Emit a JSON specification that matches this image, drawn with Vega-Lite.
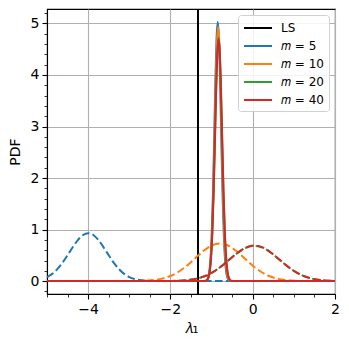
{
  "$schema": "https://vega.github.io/schema/vega-lite/v6.json",
  "width": 288,
  "height": 285,
  "autosize": "none",
  "padding": {"left": 47, "top": 9, "right": 14, "bottom": 53},
  "background": "white",
  "config": {
    "font": "DejaVu Sans",
    "view": {"stroke": "black", "strokeWidth": 1.1},
    "axis": {
      "domainColor": "black", "domainWidth": 1.1,
      "tickColor": "black", "tickWidth": 1.1, "tickSize": 5,
      "labelColor": "black", "titleColor": "black",
      "labelFont": "DejaVu Sans", "titleFont": "DejaVu Sans",
      "labelFontSize": 14, "titleFontSize": 14, "titleFontWeight": "normal",
      "gridColor": "#b0b0b0", "gridWidth": 1.1, "gridOpacity": 1,
      "labelPadding": 3
    },
    "legend": {
      "orient": "top-right", "offset": 6, "padding": 5,
      "fillColor": "rgba(255,255,255,0.85)", "strokeColor": "#d0d0d0", "cornerRadius": 3,
      "labelFont": "DejaVu Sans", "labelFontSize": 12, "labelColor": "black",
      "symbolType": "M-1,0H3", "symbolSize": 196, "symbolStrokeWidth": 2,
      "labelOffset": 22, "rowPadding": 4, "symbolDash": [1, 0]
    }
  },
  "datasets": {
    "d": [
      {"g": "LS", "s": "LS", "x": -1.33, "y": 0},

      {"g": "5s", "s": "𝑚 = 5", "x": -5, "y": 0},
      {"g": "5s", "s": "𝑚 = 5", "x": -1.18, "y": 0.0009},
      {"g": "5s", "s": "𝑚 = 5", "x": -1.15, "y": 0.0039},
      {"g": "5s", "s": "𝑚 = 5", "x": -1.12, "y": 0.0153},
      {"g": "5s", "s": "𝑚 = 5", "x": -1.09, "y": 0.0516},
      {"g": "5s", "s": "𝑚 = 5", "x": -1.06, "y": 0.151},
      {"g": "5s", "s": "𝑚 = 5", "x": -1.03, "y": 0.3827},
      {"g": "5s", "s": "𝑚 = 5", "x": -1.00, "y": 0.8405},
      {"g": "5s", "s": "𝑚 = 5", "x": -0.97, "y": 1.601},
      {"g": "5s", "s": "𝑚 = 5", "x": -0.94, "y": 2.642},
      {"g": "5s", "s": "𝑚 = 5", "x": -0.91, "y": 3.778},
      {"g": "5s", "s": "𝑚 = 5", "x": -0.88, "y": 4.682},
      {"g": "5s", "s": "𝑚 = 5", "x": -0.85, "y": 5.03},
      {"g": "5s", "s": "𝑚 = 5", "x": -0.82, "y": 4.682},
      {"g": "5s", "s": "𝑚 = 5", "x": -0.79, "y": 3.778},
      {"g": "5s", "s": "𝑚 = 5", "x": -0.76, "y": 2.642},
      {"g": "5s", "s": "𝑚 = 5", "x": -0.73, "y": 1.601},
      {"g": "5s", "s": "𝑚 = 5", "x": -0.70, "y": 0.8405},
      {"g": "5s", "s": "𝑚 = 5", "x": -0.67, "y": 0.3827},
      {"g": "5s", "s": "𝑚 = 5", "x": -0.64, "y": 0.151},
      {"g": "5s", "s": "𝑚 = 5", "x": -0.61, "y": 0.0516},
      {"g": "5s", "s": "𝑚 = 5", "x": -0.58, "y": 0.0153},
      {"g": "5s", "s": "𝑚 = 5", "x": -0.55, "y": 0.0039},
      {"g": "5s", "s": "𝑚 = 5", "x": -0.52, "y": 0.0009},
      {"g": "5s", "s": "𝑚 = 5", "x": 2, "y": 0},

      {"g": "5d", "s": "𝑚 = 5", "x": -5, "y": 0.079},
      {"g": "5d", "s": "𝑚 = 5", "x": -4.875, "y": 0.140},
      {"g": "5d", "s": "𝑚 = 5", "x": -4.75, "y": 0.232},
      {"g": "5d", "s": "𝑚 = 5", "x": -4.625, "y": 0.355},
      {"g": "5d", "s": "𝑚 = 5", "x": -4.5, "y": 0.502},
      {"g": "5d", "s": "𝑚 = 5", "x": -4.375, "y": 0.657},
      {"g": "5d", "s": "𝑚 = 5", "x": -4.25, "y": 0.797},
      {"g": "5d", "s": "𝑚 = 5", "x": -4.125, "y": 0.895},
      {"g": "5d", "s": "𝑚 = 5", "x": -4, "y": 0.93},
      {"g": "5d", "s": "𝑚 = 5", "x": -3.875, "y": 0.895},
      {"g": "5d", "s": "𝑚 = 5", "x": -3.75, "y": 0.797},
      {"g": "5d", "s": "𝑚 = 5", "x": -3.625, "y": 0.657},
      {"g": "5d", "s": "𝑚 = 5", "x": -3.5, "y": 0.502},
      {"g": "5d", "s": "𝑚 = 5", "x": -3.375, "y": 0.355},
      {"g": "5d", "s": "𝑚 = 5", "x": -3.25, "y": 0.232},
      {"g": "5d", "s": "𝑚 = 5", "x": -3.125, "y": 0.140},
      {"g": "5d", "s": "𝑚 = 5", "x": -3, "y": 0.079},
      {"g": "5d", "s": "𝑚 = 5", "x": -2.875, "y": 0.041},
      {"g": "5d", "s": "𝑚 = 5", "x": -2.75, "y": 0.0196},
      {"g": "5d", "s": "𝑚 = 5", "x": -2.5, "y": 0.0036},
      {"g": "5d", "s": "𝑚 = 5", "x": -2.25, "y": 0.0005},
      {"g": "5d", "s": "𝑚 = 5", "x": -2, "y": 0},
      {"g": "5d", "s": "𝑚 = 5", "x": 2, "y": 0},

      {"g": "10s", "s": "𝑚 = 10", "x": -5, "y": 0},
      {"g": "10s", "s": "𝑚 = 10", "x": -1.17, "y": 0.0012},
      {"g": "10s", "s": "𝑚 = 10", "x": -1.14, "y": 0.0052},
      {"g": "10s", "s": "𝑚 = 10", "x": -1.11, "y": 0.0191},
      {"g": "10s", "s": "𝑚 = 10", "x": -1.08, "y": 0.0612},
      {"g": "10s", "s": "𝑚 = 10", "x": -1.05, "y": 0.1711},
      {"g": "10s", "s": "𝑚 = 10", "x": -1.02, "y": 0.4174},
      {"g": "10s", "s": "𝑚 = 10", "x": -0.99, "y": 0.8874},
      {"g": "10s", "s": "𝑚 = 10", "x": -0.96, "y": 1.645},
      {"g": "10s", "s": "𝑚 = 10", "x": -0.93, "y": 2.659},
      {"g": "10s", "s": "𝑚 = 10", "x": -0.90, "y": 3.747},
      {"g": "10s", "s": "𝑚 = 10", "x": -0.87, "y": 4.603},
      {"g": "10s", "s": "𝑚 = 10", "x": -0.84, "y": 4.93},
      {"g": "10s", "s": "𝑚 = 10", "x": -0.81, "y": 4.603},
      {"g": "10s", "s": "𝑚 = 10", "x": -0.78, "y": 3.747},
      {"g": "10s", "s": "𝑚 = 10", "x": -0.75, "y": 2.659},
      {"g": "10s", "s": "𝑚 = 10", "x": -0.72, "y": 1.645},
      {"g": "10s", "s": "𝑚 = 10", "x": -0.69, "y": 0.8874},
      {"g": "10s", "s": "𝑚 = 10", "x": -0.66, "y": 0.4174},
      {"g": "10s", "s": "𝑚 = 10", "x": -0.63, "y": 0.1711},
      {"g": "10s", "s": "𝑚 = 10", "x": -0.60, "y": 0.0612},
      {"g": "10s", "s": "𝑚 = 10", "x": -0.57, "y": 0.0191},
      {"g": "10s", "s": "𝑚 = 10", "x": -0.54, "y": 0.0052},
      {"g": "10s", "s": "𝑚 = 10", "x": -0.51, "y": 0.0012},
      {"g": "10s", "s": "𝑚 = 10", "x": 2, "y": 0},

      {"g": "10d", "s": "𝑚 = 10", "x": -5, "y": 0},
      {"g": "10d", "s": "𝑚 = 10", "x": -3.4, "y": 0},
      {"g": "10d", "s": "𝑚 = 10", "x": -3.2, "y": 0.0002},
      {"g": "10d", "s": "𝑚 = 10", "x": -3.0, "y": 0.0009},
      {"g": "10d", "s": "𝑚 = 10", "x": -2.8, "y": 0.0028},
      {"g": "10d", "s": "𝑚 = 10", "x": -2.6, "y": 0.0081},
      {"g": "10d", "s": "𝑚 = 10", "x": -2.4, "y": 0.0209},
      {"g": "10d", "s": "𝑚 = 10", "x": -2.2, "y": 0.048},
      {"g": "10d", "s": "𝑚 = 10", "x": -2.0, "y": 0.0988},
      {"g": "10d", "s": "𝑚 = 10", "x": -1.8, "y": 0.182},
      {"g": "10d", "s": "𝑚 = 10", "x": -1.6, "y": 0.300},
      {"g": "10d", "s": "𝑚 = 10", "x": -1.4, "y": 0.443},
      {"g": "10d", "s": "𝑚 = 10", "x": -1.2, "y": 0.585},
      {"g": "10d", "s": "𝑚 = 10", "x": -1.0, "y": 0.691},
      {"g": "10d", "s": "𝑚 = 10", "x": -0.8, "y": 0.73},
      {"g": "10d", "s": "𝑚 = 10", "x": -0.6, "y": 0.691},
      {"g": "10d", "s": "𝑚 = 10", "x": -0.4, "y": 0.585},
      {"g": "10d", "s": "𝑚 = 10", "x": -0.2, "y": 0.443},
      {"g": "10d", "s": "𝑚 = 10", "x": 0.0, "y": 0.300},
      {"g": "10d", "s": "𝑚 = 10", "x": 0.2, "y": 0.182},
      {"g": "10d", "s": "𝑚 = 10", "x": 0.4, "y": 0.0988},
      {"g": "10d", "s": "𝑚 = 10", "x": 0.6, "y": 0.048},
      {"g": "10d", "s": "𝑚 = 10", "x": 0.8, "y": 0.0209},
      {"g": "10d", "s": "𝑚 = 10", "x": 1.0, "y": 0.0081},
      {"g": "10d", "s": "𝑚 = 10", "x": 1.2, "y": 0.0028},
      {"g": "10d", "s": "𝑚 = 10", "x": 1.4, "y": 0.0009},
      {"g": "10d", "s": "𝑚 = 10", "x": 1.6, "y": 0.0002},
      {"g": "10d", "s": "𝑚 = 10", "x": 1.8, "y": 0},
      {"g": "10d", "s": "𝑚 = 10", "x": 2.0, "y": 0},

      {"g": "20s", "s": "𝑚 = 20", "x": -5, "y": 0},
      {"g": "20s", "s": "𝑚 = 20", "x": -1.16, "y": 0.0023},
      {"g": "20s", "s": "𝑚 = 20", "x": -1.13, "y": 0.0086},
      {"g": "20s", "s": "𝑚 = 20", "x": -1.10, "y": 0.0287},
      {"g": "20s", "s": "𝑚 = 20", "x": -1.07, "y": 0.0836},
      {"g": "20s", "s": "𝑚 = 20", "x": -1.04, "y": 0.2151},
      {"g": "20s", "s": "𝑚 = 20", "x": -1.01, "y": 0.488},
      {"g": "20s", "s": "𝑚 = 20", "x": -0.98, "y": 0.9766},
      {"g": "20s", "s": "𝑚 = 20", "x": -0.95, "y": 1.722},
      {"g": "20s", "s": "𝑚 = 20", "x": -0.92, "y": 2.677},
      {"g": "20s", "s": "𝑚 = 20", "x": -0.89, "y": 3.668},
      {"g": "20s", "s": "𝑚 = 20", "x": -0.86, "y": 4.432},
      {"g": "20s", "s": "𝑚 = 20", "x": -0.83, "y": 4.72},
      {"g": "20s", "s": "𝑚 = 20", "x": -0.80, "y": 4.432},
      {"g": "20s", "s": "𝑚 = 20", "x": -0.77, "y": 3.668},
      {"g": "20s", "s": "𝑚 = 20", "x": -0.74, "y": 2.677},
      {"g": "20s", "s": "𝑚 = 20", "x": -0.71, "y": 1.722},
      {"g": "20s", "s": "𝑚 = 20", "x": -0.68, "y": 0.9766},
      {"g": "20s", "s": "𝑚 = 20", "x": -0.65, "y": 0.488},
      {"g": "20s", "s": "𝑚 = 20", "x": -0.62, "y": 0.2151},
      {"g": "20s", "s": "𝑚 = 20", "x": -0.59, "y": 0.0836},
      {"g": "20s", "s": "𝑚 = 20", "x": -0.56, "y": 0.0287},
      {"g": "20s", "s": "𝑚 = 20", "x": -0.53, "y": 0.0086},
      {"g": "20s", "s": "𝑚 = 20", "x": -0.50, "y": 0.0023},
      {"g": "20s", "s": "𝑚 = 20", "x": 2, "y": 0},

      {"g": "20d", "s": "𝑚 = 20", "x": -5, "y": 0},
      {"g": "20d", "s": "𝑚 = 20", "x": -2.56, "y": 0},
      {"g": "20d", "s": "𝑚 = 20", "x": -2.36, "y": 0.0003},
      {"g": "20d", "s": "𝑚 = 20", "x": -2.16, "y": 0.001},
      {"g": "20d", "s": "𝑚 = 20", "x": -1.96, "y": 0.003},
      {"g": "20d", "s": "𝑚 = 20", "x": -1.76, "y": 0.0085},
      {"g": "20d", "s": "𝑚 = 20", "x": -1.56, "y": 0.0213},
      {"g": "20d", "s": "𝑚 = 20", "x": -1.36, "y": 0.048},
      {"g": "20d", "s": "𝑚 = 20", "x": -1.16, "y": 0.097},
      {"g": "20d", "s": "𝑚 = 20", "x": -0.96, "y": 0.177},
      {"g": "20d", "s": "𝑚 = 20", "x": -0.76, "y": 0.288},
      {"g": "20d", "s": "𝑚 = 20", "x": -0.56, "y": 0.420},
      {"g": "20d", "s": "𝑚 = 20", "x": -0.36, "y": 0.551},
      {"g": "20d", "s": "𝑚 = 20", "x": -0.16, "y": 0.648},
      {"g": "20d", "s": "𝑚 = 20", "x": 0.04, "y": 0.684},
      {"g": "20d", "s": "𝑚 = 20", "x": 0.24, "y": 0.649},
      {"g": "20d", "s": "𝑚 = 20", "x": 0.44, "y": 0.552},
      {"g": "20d", "s": "𝑚 = 20", "x": 0.64, "y": 0.421},
      {"g": "20d", "s": "𝑚 = 20", "x": 0.84, "y": 0.289},
      {"g": "20d", "s": "𝑚 = 20", "x": 1.04, "y": 0.178},
      {"g": "20d", "s": "𝑚 = 20", "x": 1.24, "y": 0.098},
      {"g": "20d", "s": "𝑚 = 20", "x": 1.44, "y": 0.0485},
      {"g": "20d", "s": "𝑚 = 20", "x": 1.64, "y": 0.0215},
      {"g": "20d", "s": "𝑚 = 20", "x": 1.84, "y": 0.0086},
      {"g": "20d", "s": "𝑚 = 20", "x": 2.0, "y": 0.004},

      {"g": "40s", "s": "𝑚 = 40", "x": -5, "y": 0},
      {"g": "40s", "s": "𝑚 = 40", "x": -1.16, "y": 0.0025},
      {"g": "40s", "s": "𝑚 = 40", "x": -1.13, "y": 0.0093},
      {"g": "40s", "s": "𝑚 = 40", "x": -1.10, "y": 0.0303},
      {"g": "40s", "s": "𝑚 = 40", "x": -1.07, "y": 0.0873},
      {"g": "40s", "s": "𝑚 = 40", "x": -1.04, "y": 0.2222},
      {"g": "40s", "s": "𝑚 = 40", "x": -1.01, "y": 0.4991},
      {"g": "40s", "s": "𝑚 = 40", "x": -0.98, "y": 0.9903},
      {"g": "40s", "s": "𝑚 = 40", "x": -0.95, "y": 1.735},
      {"g": "40s", "s": "𝑚 = 40", "x": -0.92, "y": 2.683},
      {"g": "40s", "s": "𝑚 = 40", "x": -0.89, "y": 3.664},
      {"g": "40s", "s": "𝑚 = 40", "x": -0.86, "y": 4.416},
      {"g": "40s", "s": "𝑚 = 40", "x": -0.83, "y": 4.70},
      {"g": "40s", "s": "𝑚 = 40", "x": -0.80, "y": 4.416},
      {"g": "40s", "s": "𝑚 = 40", "x": -0.77, "y": 3.664},
      {"g": "40s", "s": "𝑚 = 40", "x": -0.74, "y": 2.683},
      {"g": "40s", "s": "𝑚 = 40", "x": -0.71, "y": 1.735},
      {"g": "40s", "s": "𝑚 = 40", "x": -0.68, "y": 0.9903},
      {"g": "40s", "s": "𝑚 = 40", "x": -0.65, "y": 0.4991},
      {"g": "40s", "s": "𝑚 = 40", "x": -0.62, "y": 0.2222},
      {"g": "40s", "s": "𝑚 = 40", "x": -0.59, "y": 0.0873},
      {"g": "40s", "s": "𝑚 = 40", "x": -0.56, "y": 0.0303},
      {"g": "40s", "s": "𝑚 = 40", "x": -0.53, "y": 0.0093},
      {"g": "40s", "s": "𝑚 = 40", "x": -0.50, "y": 0.0025},
      {"g": "40s", "s": "𝑚 = 40", "x": 2, "y": 0},

      {"g": "40d", "s": "𝑚 = 40", "x": -5, "y": 0},
      {"g": "40d", "s": "𝑚 = 40", "x": -2.56, "y": 0},
      {"g": "40d", "s": "𝑚 = 40", "x": -2.36, "y": 0.0003},
      {"g": "40d", "s": "𝑚 = 40", "x": -2.16, "y": 0.001},
      {"g": "40d", "s": "𝑚 = 40", "x": -1.96, "y": 0.0031},
      {"g": "40d", "s": "𝑚 = 40", "x": -1.76, "y": 0.0087},
      {"g": "40d", "s": "𝑚 = 40", "x": -1.56, "y": 0.0217},
      {"g": "40d", "s": "𝑚 = 40", "x": -1.36, "y": 0.0488},
      {"g": "40d", "s": "𝑚 = 40", "x": -1.16, "y": 0.0985},
      {"g": "40d", "s": "𝑚 = 40", "x": -0.96, "y": 0.179},
      {"g": "40d", "s": "𝑚 = 40", "x": -0.76, "y": 0.291},
      {"g": "40d", "s": "𝑚 = 40", "x": -0.56, "y": 0.424},
      {"g": "40d", "s": "𝑚 = 40", "x": -0.36, "y": 0.556},
      {"g": "40d", "s": "𝑚 = 40", "x": -0.16, "y": 0.654},
      {"g": "40d", "s": "𝑚 = 40", "x": 0.04, "y": 0.69},
      {"g": "40d", "s": "𝑚 = 40", "x": 0.24, "y": 0.654},
      {"g": "40d", "s": "𝑚 = 40", "x": 0.44, "y": 0.556},
      {"g": "40d", "s": "𝑚 = 40", "x": 0.64, "y": 0.424},
      {"g": "40d", "s": "𝑚 = 40", "x": 0.84, "y": 0.291},
      {"g": "40d", "s": "𝑚 = 40", "x": 1.04, "y": 0.179},
      {"g": "40d", "s": "𝑚 = 40", "x": 1.24, "y": 0.0985},
      {"g": "40d", "s": "𝑚 = 40", "x": 1.44, "y": 0.0488},
      {"g": "40d", "s": "𝑚 = 40", "x": 1.64, "y": 0.0217},
      {"g": "40d", "s": "𝑚 = 40", "x": 1.84, "y": 0.0087},
      {"g": "40d", "s": "𝑚 = 40", "x": 2.0, "y": 0.004}
    ]
  },
  "data": {"name": "d"},
  "resolve": {"axis": {"x": "independent", "y": "independent"}},
  "layer": [
    {
      "transform": [{"filter": {"field": "g", "equal": "LS"}}],
      "mark": {"type": "rule", "strokeWidth": 2},
      "encoding": {
        "x": {"field": "x", "type": "quantitative",
              "scale": {"domain": [-5, 2], "nice": false, "zero": false},
              "axis": {"orient": "bottom", "values": [-4, -2, 0, 2], "grid": true, "title": "𝜆₁", "titleFontSize": 15, "titlePadding": 4, "labelFlush": false}},
        "color": {"field": "s", "type": "nominal",
                  "scale": {"domain": ["LS", "𝑚 = 5", "𝑚 = 10", "𝑚 = 20", "𝑚 = 40"],
                            "range": ["#000000", "#1f77b4", "#ff7f0e", "#2ca02c", "#d62728"]},
                  "legend": {"title": null}}
      }
    },
    {
      "transform": [{"filter": {"field": "g", "equal": "5s"}}],
      "mark": {"type": "line", "strokeWidth": 2, "interpolate": "monotone"},
      "encoding": {
        "x": {"field": "x", "type": "quantitative",
              "axis": {"orient": "bottom", "values": [-5, -4.5, -3.5, -3, -2.5, -1.5, -1, -0.5, 0.5, 1, 1.5], "grid": false, "labels": false, "domain": false, "tickSize": 3, "tickWidth": 0.8, "title": null}},
        "y": {"field": "y", "type": "quantitative",
              "scale": {"domain": [-0.25, 5.28], "nice": false, "zero": false},
              "axis": {"orient": "left", "values": [0, 1, 2, 3, 4, 5], "grid": true, "title": "PDF", "titlePadding": 8, "labelFlush": false}},
        "color": {"field": "s", "type": "nominal"}
      }
    },
    {
      "transform": [{"filter": {"field": "g", "equal": "5d"}}],
      "mark": {"type": "line", "strokeWidth": 2, "strokeDash": [7.7, 3.3], "interpolate": "monotone"},
      "encoding": {
        "x": {"field": "x", "type": "quantitative", "axis": null},
        "y": {"field": "y", "type": "quantitative",
              "axis": {"orient": "left", "values": [-0.2, 0.2, 0.4, 0.6, 0.8, 1.2, 1.4, 1.6, 1.8, 2.2, 2.4, 2.6, 2.8, 3.2, 3.4, 3.6, 3.8, 4.2, 4.4, 4.6, 4.8, 5.2], "grid": false, "labels": false, "domain": false, "tickSize": 3, "tickWidth": 0.8, "title": null}},
        "color": {"field": "s", "type": "nominal"}
      }
    },
    {
      "transform": [{"filter": {"field": "g", "equal": "10s"}}],
      "mark": {"type": "line", "strokeWidth": 2, "interpolate": "monotone"},
      "encoding": {
        "x": {"field": "x", "type": "quantitative", "axis": null},
        "y": {"field": "y", "type": "quantitative", "axis": null},
        "color": {"field": "s", "type": "nominal"}
      }
    },
    {
      "transform": [{"filter": {"field": "g", "equal": "10d"}}],
      "mark": {"type": "line", "strokeWidth": 2, "strokeDash": [7.7, 3.3], "interpolate": "monotone"},
      "encoding": {
        "x": {"field": "x", "type": "quantitative", "axis": null},
        "y": {"field": "y", "type": "quantitative", "axis": null},
        "color": {"field": "s", "type": "nominal"}
      }
    },
    {
      "transform": [{"filter": {"field": "g", "equal": "20s"}}],
      "mark": {"type": "line", "strokeWidth": 2, "interpolate": "monotone"},
      "encoding": {
        "x": {"field": "x", "type": "quantitative", "axis": null},
        "y": {"field": "y", "type": "quantitative", "axis": null},
        "color": {"field": "s", "type": "nominal"}
      }
    },
    {
      "transform": [{"filter": {"field": "g", "equal": "20d"}}],
      "mark": {"type": "line", "strokeWidth": 2, "strokeDash": [7.7, 3.3], "strokeDashOffset": 1.5, "interpolate": "monotone"},
      "encoding": {
        "x": {"field": "x", "type": "quantitative", "axis": null},
        "y": {"field": "y", "type": "quantitative", "axis": null},
        "color": {"field": "s", "type": "nominal"}
      }
    },
    {
      "transform": [{"filter": {"field": "g", "equal": "40s"}}],
      "mark": {"type": "line", "strokeWidth": 2, "interpolate": "monotone"},
      "encoding": {
        "x": {"field": "x", "type": "quantitative", "axis": null},
        "y": {"field": "y", "type": "quantitative", "axis": null},
        "color": {"field": "s", "type": "nominal"}
      }
    },
    {
      "transform": [{"filter": {"field": "g", "equal": "40d"}}],
      "mark": {"type": "line", "strokeWidth": 2, "strokeDash": [7.7, 3.3], "interpolate": "monotone"},
      "encoding": {
        "x": {"field": "x", "type": "quantitative", "axis": null},
        "y": {"field": "y", "type": "quantitative", "axis": null},
        "color": {"field": "s", "type": "nominal"}
      }
    }
  ]
}
